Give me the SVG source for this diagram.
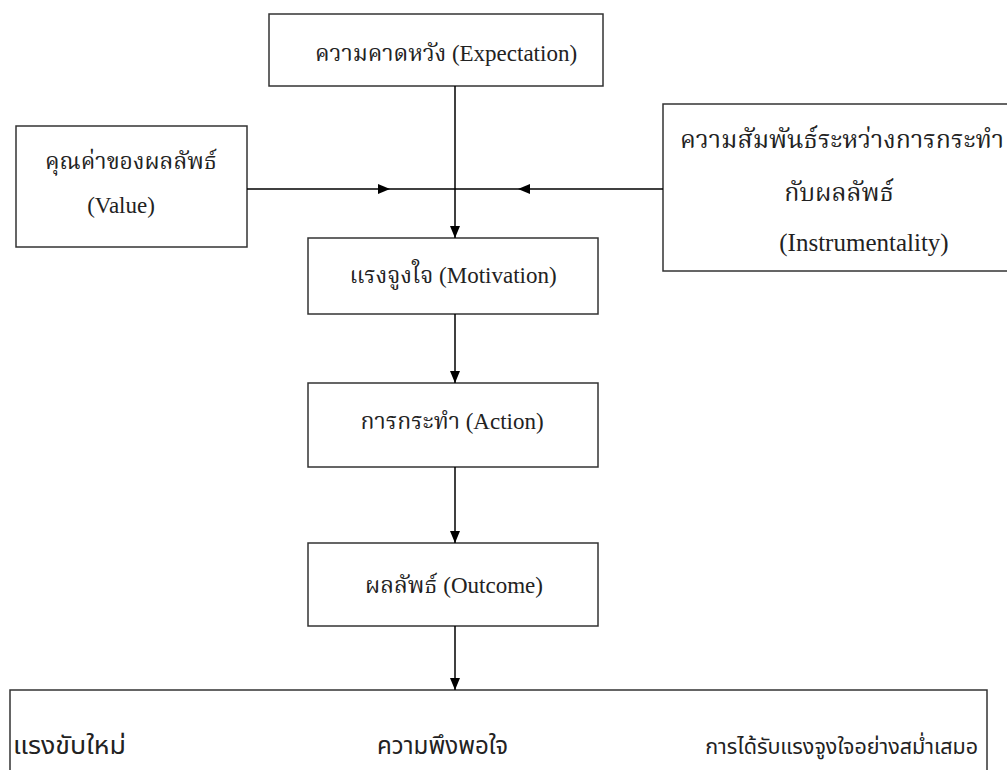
<svg xmlns="http://www.w3.org/2000/svg" width="1007" height="770" viewBox="0 0 1007 770">
<defs>
<style>
.box{fill:#fff;stroke:#333;stroke-width:1.5}
.t{font-family:"Liberation Serif","Noto Serif Thai","Noto Sans Thai",serif;font-size:23px;fill:#222;text-anchor:middle}
.r{font-size:25px}
.b{font-family:"Liberation Sans","Noto Sans Thai",sans-serif;font-size:24px;fill:#222}
.ln{stroke:#000;stroke-width:1.5;fill:none}
</style>
<marker id="ah" viewBox="0 0 12 10" refX="12" refY="5" markerWidth="12" markerHeight="10" markerUnits="userSpaceOnUse" orient="auto"><path d="M0,0 L12,5 L0,10 Z" fill="#000"/></marker>
</defs>
<rect width="1007" height="770" fill="#fff"/>
<g id="expectation"><rect class="box" x="269" y="14" width="334" height="72"/><text class="t" x="446" y="61">ความคาดหวัง (Expectation)</text></g>
<g id="value"><rect class="box" x="16" y="126" width="231" height="121"/><text class="t" x="131" y="169">คุณค่าของผลลัพธ์</text><text class="t" x="121" y="213">(Value)</text></g>
<g id="instrumentality"><rect class="box" x="663" y="104" width="360" height="167"/><text class="t r" x="842" y="148">ความสัมพันธ์ระหว่างการกระทำ</text><text class="t r" x="839" y="201">กับผลลัพธ์</text><text class="t r" x="864" y="251">(Instrumentality)</text></g>
<g id="motivation"><rect class="box" x="308" y="238" width="290" height="76"/><text class="t" x="453" y="283">แรงจูงใจ (Motivation)</text></g>
<g id="action"><rect class="box" x="308" y="383" width="290" height="84"/><text class="t" x="452" y="429">การกระทำ (Action)</text></g>
<g id="outcome"><rect class="box" x="308" y="543" width="290" height="83"/><text class="t" x="454" y="593">ผลลัพธ์ (Outcome)</text></g>
<g id="result"><rect class="box" x="10" y="690" width="977" height="100"/><text class="b" x="13" y="754" textLength="113" lengthAdjust="spacingAndGlyphs">แรงขับใหม่</text><text class="b" x="377" y="754" textLength="131" lengthAdjust="spacingAndGlyphs">ความพึงพอใจ</text><text class="b" x="978" y="754" style="font-size:21.5px;text-anchor:end">การได้รับแรงจูงใจอย่างสม่ำเสมอ</text></g>
<g id="connectors">
<line class="ln" x1="455" y1="86" x2="455" y2="238" marker-end="url(#ah)"/>
<line class="ln" x1="247" y1="189" x2="390" y2="189" marker-end="url(#ah)"/>
<line class="ln" x1="390" y1="189" x2="455" y2="189"/>
<line class="ln" x1="663" y1="189" x2="518" y2="189" marker-end="url(#ah)"/>
<line class="ln" x1="518" y1="189" x2="455" y2="189"/>
<line class="ln" x1="455" y1="314" x2="455" y2="383" marker-end="url(#ah)"/>
<line class="ln" x1="455" y1="467" x2="455" y2="543" marker-end="url(#ah)"/>
<line class="ln" x1="455" y1="626" x2="455" y2="690" marker-end="url(#ah)"/>
</g>
</svg>
